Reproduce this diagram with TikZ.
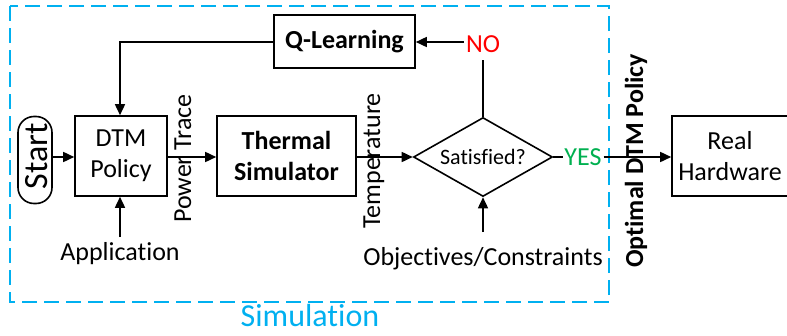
\documentclass[tikz,border=0pt]{standalone}
\usepackage{fontspec}
\setmainfont{Carlito}[Ligatures=NoCommon]
\usetikzlibrary{arrows.meta,shapes.geometric}
\definecolor{simblue}{RGB}{0,176,240}
\definecolor{nored}{RGB}{255,0,0}
\definecolor{yesgreen}{RGB}{0,176,80}
\begin{document}
\begin{tikzpicture}[x=1pt,y=-1pt,
  every node/.style={font=\fontsize{26}{31}\selectfont, inner sep=0pt},
  blk/.style={draw, line width=1.6pt, minimum width=#1},
  arr/.style={line width=1.6pt, -{Triangle[length=11pt,width=10pt]}},
  ln/.style={line width=1.6pt}]
\useasboundingbox (0,0) rectangle (787,335);
% simulation box
\draw[simblue, line width=1.5pt, dash pattern=on 15pt off 7pt] (10,6) rectangle (609,302);
\node[simblue, font=\fontsize{32}{34}\selectfont, anchor=base] (sim) at (310,326) {Simulation};
% nodes
\node[draw, line width=1.6pt, rounded corners=16pt, minimum width=34pt, minimum height=87pt] (start) at (35,160) {};
\node[rotate=90, anchor=base, font=\fontsize{34}{36}\selectfont] (starttxt) at (47,156.5) {Start};
\node[blk=92pt, minimum height=80pt, align=center] (dtm) at (121,156) {DTM\\Policy};
\node[blk=139pt, minimum height=80pt, align=center, font=\fontsize{26}{31}\selectfont\bfseries] (ts) at (286.5,156) {Thermal\\Simulator};
\node[diamond, draw, line width=1.6pt, minimum width=139pt, minimum height=79pt] (sat) at (483,157) {};
\node[font=\fontsize{22}{24}\selectfont] (sattxt) at (483,157) {Satisfied?};
\node[blk=141pt, minimum height=53pt, font=\fontsize{26}{31}\selectfont\bfseries] (ql) at (344.5,41.5) {Q-Learning};
\node[blk=116pt, minimum height=80pt, align=center] (rh) at (730,156) {Real\\Hardware};
% labels
\node[nored, anchor=base] (no) at (483,52) {NO};
\node[yesgreen, anchor=base] (yes) at (583,165) {YES};
\node[anchor=base] (app) at (120,260) {Application};
\node[anchor=base] (obj) at (483,265) {Objectives/Constraints};
\node[rotate=90, anchor=base] (pt) at (191,158.5) {Power Trace};
\node[rotate=90, anchor=base] (temp) at (380,161) {Temperature};
\node[rotate=90, anchor=base, font=\fontsize{26}{31}\selectfont\bfseries] (opt) at (643,161) {Optimal DTM Policy};
\coordinate (appin) at (120,237);
\coordinate (objin) at (483,232);
\coordinate (nobot) at (483,60);
\coordinate (qlcorner) at (120,42);
% connectors
\draw[arr] (start.east |- 0,157) -- (dtm.west |- 0,157);
\draw[arr] (dtm.east |- 0,157) -- (ts.west |- 0,157);
\draw[arr] (ts.east |- 0,157) -- (sat.west);
\draw[arr] (appin) -- (dtm.south -| appin);
\draw[arr] (objin) -- (sat.south);
\draw[ln] (sat.north) -- (nobot);
\draw[arr] ([xshift=-2pt]no.west |- 0,42) -- (ql.east |- 0,42);
\draw[arr] (ql.west |- 0,42) -- (qlcorner) -- (dtm.north -| qlcorner);
\draw[ln] (sat.east) -- ([xshift=-1pt]yes.west |- 0,157);
\draw[arr] ([xshift=2pt]yes.east |- 0,157) -- (rh.west |- 0,157);
\end{tikzpicture}
\end{document}
